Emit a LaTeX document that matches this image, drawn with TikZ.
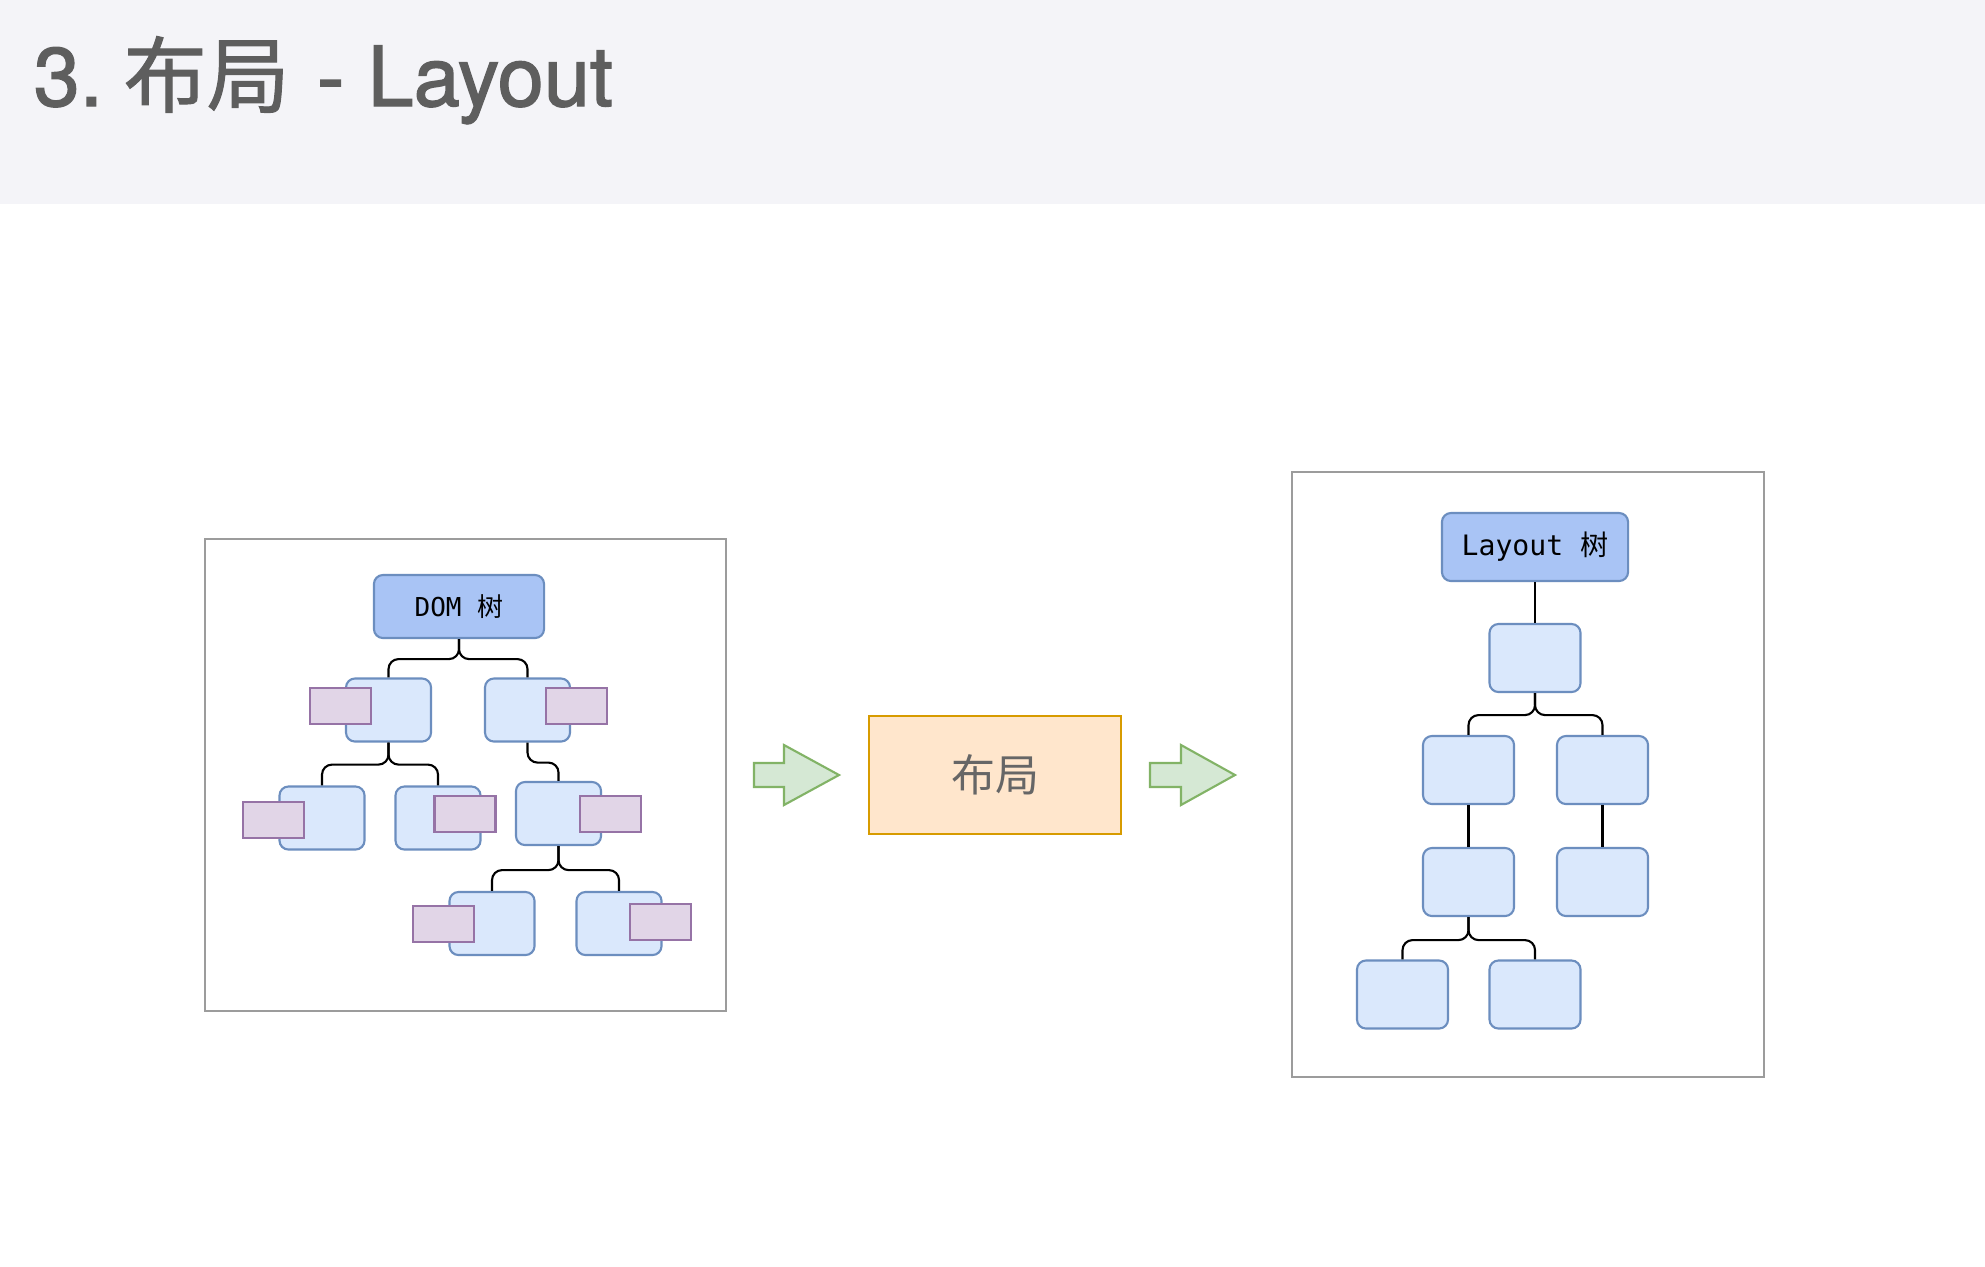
\documentclass[tikz,border=0pt]{standalone}
\usepackage{fontspec}
\usepackage{tikz}
\usepackage{xcolor}
\setmainfont{TeX Gyre Heros}
\newfontfamily\cjk{Noto Sans CJK SC}
\newfontfamily\mono{DejaVu Sans Mono}
\newfontfamily\headfont[FakeBold=1.6]{TeX Gyre Heros}
\newfontfamily\headcjk[FakeBold=1.2]{Noto Sans CJK SC}

\definecolor{headbg}{HTML}{F4F4F8}
\definecolor{titlegray}{HTML}{5E5E5E}
\definecolor{framegray}{HTML}{9C9C9C}
\definecolor{rootblue}{HTML}{A9C4F5}
\definecolor{leafblue}{HTML}{DAE8FC}
\definecolor{nodeline}{HTML}{6C8EBF}
\definecolor{attrfill}{HTML}{E1D5E7}
\definecolor{attrline}{HTML}{9673A6}
\definecolor{stagefill}{HTML}{FFE6CC}
\definecolor{stageline}{HTML}{D79B00}
\definecolor{flowfill}{HTML}{D5E8D4}
\definecolor{flowline}{HTML}{82B366}

\tikzset{
  panel/.style={draw=framegray, line width=0.6pt},
  rootbox/.style={draw=nodeline, fill=rootblue, rounded corners=0.09cm, line width=0.6pt,
    inner sep=0pt, font=\mono\fontsize{7.4}{9}\selectfont},
  treebox/.style={draw=nodeline, fill=leafblue, rounded corners=0.09cm, line width=0.6pt,
    inner sep=0pt, minimum width=0.85cm, minimum height=0.63cm},
  bigbox/.style={treebox, minimum width=0.91cm, minimum height=0.68cm},
  attrbox/.style={draw=attrline, fill=attrfill, line width=0.6pt, inner sep=0pt,
    minimum width=0.61cm, minimum height=0.36cm},
  stagebox/.style={draw=stageline, fill=stagefill, line width=0.6pt, inner sep=0pt,
    minimum width=2.52cm, minimum height=1.18cm, text=black!60,
    font=\cjk\fontsize{12.5}{15}\selectfont},
  flowarrow/.style={draw=flowline, fill=flowfill, line width=0.6pt},
  link/.style={draw=black, line width=0.6pt, rounded corners=0.1cm},
}

\begin{document}
\begin{tikzpicture}[x=0.01cm,y=-0.01cm]
\useasboundingbox (0,0) rectangle (1985,1266);
\fill[white] (0,0) rectangle (1985,1266);
\fill[headbg] (0,0) rectangle (1985,204);
\node[anchor=base west, inner sep=0pt, text=titlegray, font=\headfont\fontsize{23.6}{28}\selectfont]
  (title) at (33,106) {3.\kern0.25em{\headcjk 布局}\kern0.05em{} - Layout};

\draw[panel] (205,539) rectangle (726,1011);
\node[rootbox, minimum width=1.70cm, minimum height=0.63cm] (dom) at (459,606.5) {DOM {\cjk 树}};
\node[treebox] (d1) at (388.5,710) {};
\node[treebox] (d2) at (527.5,710) {};
\node[attrbox] (p1) at (340.5,706) {};
\node[attrbox] (p2) at (576.5,706) {};
\node[treebox] (d3) at (322,818) {};
\node[treebox] (d4) at (438,818) {};
\node[treebox] (d5) at (558.5,813.5) {};
\node[attrbox] (p3) at (273.5,820) {};
\node[attrbox] (p4) at (465,814) {};
\node[attrbox] (p5) at (610.5,814) {};
\node[treebox] (d6) at (492,923.5) {};
\node[treebox] (d7) at (619,923.5) {};
\node[attrbox] (p6) at (443.5,924) {};
\node[attrbox] (p7) at (660.5,922) {};
\draw[link] (dom.south) -- ++(0,20) -| (d1.north);
\draw[link] (dom.south) -- ++(0,20) -| (d2.north);
\draw[link] (d1.south) -- ++(0,22) -| (d3.north);
\draw[link] (d1.south) -- ++(0,22) -| (d4.north);
\draw[link] (d2.south) -- ++(0,20) -| (d5.north);
\draw[link] (d5.south) -- ++(0,24) -| (d6.north);
\draw[link] (d5.south) -- ++(0,24) -| (d7.north);

\coordinate (in) at (754,775);
\draw[flowarrow] (in) ++(0,-12) -- ++(30,0) -- ++(0,-18) -- ++(55,30) -- ++(-55,30)
  -- ++(0,-18) -- ++(-30,0) -- cycle;
\node[stagebox] (stage) at (995,775) {布局};
\coordinate (out) at (1150,775);
\draw[flowarrow] (out) ++(0,-12) -- ++(31,0) -- ++(0,-18) -- ++(54,30) -- ++(-54,30)
  -- ++(0,-18) -- ++(-31,0) -- cycle;

\draw[panel] (1292,472) rectangle (1764,1077);
\node[rootbox, minimum width=1.86cm, minimum height=0.68cm, font=\mono\fontsize{8}{10}\selectfont]
  (lay) at (1535,547) {Layout {\cjk 树}};
\node[bigbox] (l1) at (1535,658) {};
\node[bigbox] (l2) at (1468.5,770) {};
\node[bigbox] (l3) at (1602.5,770) {};
\node[bigbox] (l4) at (1468.5,882) {};
\node[bigbox] (l5) at (1602.5,882) {};
\node[bigbox] (l6) at (1402.5,994.5) {};
\node[bigbox] (l7) at (1535,994.5) {};
\draw[link] (lay) -- (l1);
\draw[link] (l1.south) -- ++(0,22) -| (l2.north);
\draw[link] (l1.south) -- ++(0,22) -| (l3.north);
\draw[link] (l2) -- (l4);
\draw[link] (l3) -- (l5);
\draw[link] (l4.south) -- ++(0,23) -| (l6.north);
\draw[link] (l4.south) -- ++(0,23) -| (l7.north);
\end{tikzpicture}
\end{document}
